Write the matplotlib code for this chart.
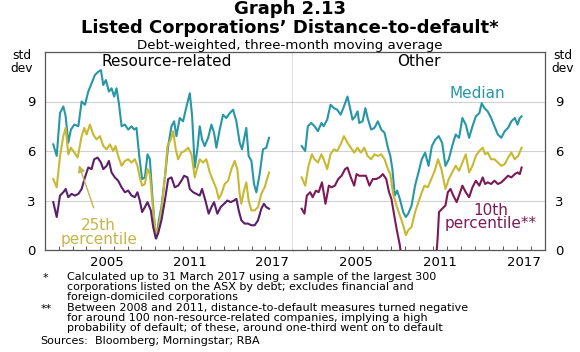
import numpy as np
import matplotlib
matplotlib.use('Agg')
import matplotlib.pyplot as plt

plt.rcParams['font.family'] = ['DejaVu Sans']

# Values: (year, std dev)
res_median = [(2001.60, 6.4), (2001.85, 5.7), (2002.09, 8.3), (2002.33, 8.7), (2002.50, 8.1), (2002.69, 6.5),
              (2002.88, 7.3), (2003.13, 7.6), (2003.42, 7.5), (2003.66, 9.0), (2003.90, 8.8), (2004.14, 9.6),
              (2004.38, 10.1), (2004.62, 10.6), (2004.86, 10.8), (2005.06, 10.9), (2005.23, 10.0), (2005.42, 10.3),
              (2005.64, 9.6), (2005.83, 9.8), (2006.02, 9.3), (2006.19, 9.8), (2006.36, 8.9), (2006.56, 7.5),
              (2006.80, 7.6), (2007.04, 7.3), (2007.28, 7.5), (2007.47, 7.3), (2007.64, 7.4), (2007.84, 5.7),
              (2008.05, 4.3), (2008.25, 4.4), (2008.44, 5.8), (2008.61, 5.5), (2008.78, 3.4), (2008.97, 1.4),
              (2009.09, 0.7), (2009.26, 1.8), (2009.45, 2.6), (2009.70, 4.4), (2009.94, 6.3), (2010.18, 7.5),
              (2010.37, 7.8), (2010.54, 6.9), (2010.78, 8.0), (2011.02, 7.8), (2011.27, 8.7), (2011.51, 9.5),
              (2011.68, 8.1), (2011.87, 5.0), (2012.06, 6.1), (2012.23, 7.5), (2012.40, 6.7), (2012.59, 6.3),
              (2012.84, 6.8), (2013.08, 7.6), (2013.27, 7.1), (2013.44, 6.2), (2013.68, 7.3), (2013.92, 8.2),
              (2014.16, 8.0), (2014.41, 8.3), (2014.65, 8.5), (2014.89, 7.8), (2015.13, 6.5), (2015.30, 6.1),
              (2015.49, 6.9), (2015.61, 7.4), (2015.78, 5.7), (2015.98, 5.4), (2016.17, 4.0), (2016.34, 3.5),
              (2016.58, 4.6), (2016.82, 6.1), (2017.06, 6.2), (2017.26, 6.8)]

res_p25 = [(2001.60, 4.3), (2001.85, 3.8), (2002.09, 5.7), (2002.33, 6.9), (2002.50, 7.4), (2002.69, 5.8),
           (2002.88, 6.2), (2003.13, 5.9), (2003.37, 5.6), (2003.66, 6.9), (2003.85, 7.4), (2004.02, 7.0),
           (2004.26, 7.6), (2004.50, 7.0), (2004.74, 6.7), (2004.99, 6.9), (2005.23, 6.3), (2005.47, 6.1),
           (2005.71, 6.4), (2005.95, 6.0), (2006.12, 6.3), (2006.31, 5.7), (2006.56, 5.1), (2006.80, 5.4),
           (2007.04, 5.5), (2007.28, 5.3), (2007.52, 5.5), (2007.71, 5.1), (2007.88, 4.4), (2008.05, 3.9),
           (2008.25, 4.0), (2008.44, 4.9), (2008.61, 4.6), (2008.85, 2.4), (2009.04, 1.0), (2009.21, 1.2),
           (2009.45, 2.4), (2009.70, 4.4), (2009.89, 6.3), (2010.13, 6.7), (2010.30, 7.2), (2010.49, 6.1),
           (2010.66, 5.5), (2010.90, 5.9), (2011.14, 6.0), (2011.39, 6.2), (2011.63, 5.8), (2011.87, 4.4),
           (2012.06, 5.0), (2012.23, 5.5), (2012.47, 5.3), (2012.71, 5.5), (2012.96, 4.7), (2013.20, 4.2),
           (2013.44, 3.7), (2013.61, 3.1), (2013.80, 3.4), (2014.04, 4.0), (2014.29, 4.2), (2014.53, 4.9),
           (2014.77, 5.4), (2014.96, 4.9), (2015.13, 3.4), (2015.25, 2.8), (2015.44, 3.6), (2015.61, 4.1),
           (2015.78, 3.0), (2015.98, 2.4), (2016.22, 2.4), (2016.46, 2.6), (2016.70, 3.4), (2016.94, 3.8),
           (2017.26, 4.7)]

res_p10 = [(2001.60, 2.9), (2001.85, 2.0), (2002.09, 3.3), (2002.33, 3.5), (2002.50, 3.7), (2002.69, 3.2),
           (2002.93, 3.4), (2003.17, 3.3), (2003.42, 3.4), (2003.66, 3.7), (2003.90, 4.4), (2004.14, 5.0),
           (2004.38, 4.9), (2004.57, 5.5), (2004.82, 5.6), (2005.06, 5.3), (2005.23, 4.9), (2005.47, 5.1),
           (2005.64, 5.4), (2005.83, 4.7), (2006.07, 4.4), (2006.31, 4.2), (2006.56, 3.8), (2006.80, 3.5),
           (2007.04, 3.6), (2007.28, 3.3), (2007.52, 3.2), (2007.71, 3.5), (2007.88, 3.0), (2008.05, 2.3),
           (2008.25, 2.6), (2008.44, 2.9), (2008.68, 2.4), (2008.85, 1.4), (2009.04, 0.7), (2009.21, 1.0),
           (2009.45, 1.8), (2009.70, 3.0), (2009.94, 4.3), (2010.18, 4.4), (2010.42, 3.8), (2010.66, 3.9),
           (2010.90, 4.2), (2011.10, 4.5), (2011.34, 4.4), (2011.51, 3.7), (2011.75, 3.5), (2011.99, 3.4),
           (2012.23, 3.3), (2012.40, 3.7), (2012.64, 3.0), (2012.88, 2.2), (2013.08, 2.6), (2013.27, 2.9),
           (2013.51, 2.2), (2013.75, 2.6), (2014.00, 2.8), (2014.24, 3.0), (2014.48, 2.9), (2014.72, 3.0),
           (2014.89, 3.1), (2015.06, 2.4), (2015.25, 1.8), (2015.49, 1.6), (2015.73, 1.6), (2015.98, 1.5),
           (2016.22, 1.5), (2016.46, 1.8), (2016.70, 2.5), (2016.89, 2.8), (2017.06, 2.6), (2017.26, 2.5)]

oth_median = [(2001.62, 6.3), (2001.87, 6.0), (2002.06, 7.5), (2002.30, 7.7), (2002.54, 7.5), (2002.78, 7.2),
              (2003.03, 7.7), (2003.19, 7.5), (2003.44, 7.9), (2003.68, 8.8), (2003.92, 8.6), (2004.16, 8.5),
              (2004.40, 8.2), (2004.64, 8.7), (2004.89, 9.3), (2005.05, 8.7), (2005.25, 7.9), (2005.44, 8.1),
              (2005.61, 8.4), (2005.73, 7.7), (2005.97, 7.8), (2006.17, 8.6), (2006.33, 8.0), (2006.58, 7.3),
              (2006.82, 7.4), (2007.06, 7.8), (2007.30, 7.3), (2007.54, 7.1), (2007.78, 6.2), (2007.95, 5.7),
              (2008.10, 4.9), (2008.27, 3.3), (2008.44, 3.6), (2008.63, 3.1), (2008.87, 2.3), (2009.06, 2.0),
              (2009.23, 2.2), (2009.47, 2.7), (2009.72, 3.9), (2009.96, 4.7), (2010.20, 5.5), (2010.44, 5.9),
              (2010.68, 5.1), (2010.92, 6.3), (2011.17, 6.7), (2011.41, 6.9), (2011.65, 6.5), (2011.89, 5.1),
              (2012.13, 5.5), (2012.37, 6.3), (2012.62, 7.0), (2012.86, 6.8), (2013.10, 8.0), (2013.34, 7.6),
              (2013.58, 6.8), (2013.82, 7.5), (2014.06, 8.1), (2014.31, 8.3), (2014.48, 8.9), (2014.67, 8.6),
              (2014.91, 8.4), (2015.15, 8.0), (2015.39, 7.5), (2015.63, 7.0), (2015.88, 6.8), (2016.12, 7.2),
              (2016.36, 7.4), (2016.60, 7.8), (2016.84, 8.0), (2017.04, 7.6), (2017.20, 8.0), (2017.33, 8.1)]

oth_p25 = [(2001.62, 4.4), (2001.87, 3.9), (2002.11, 5.1), (2002.35, 5.8), (2002.54, 5.5), (2002.78, 5.3),
           (2003.03, 5.8), (2003.19, 5.5), (2003.44, 4.9), (2003.68, 5.8), (2003.92, 6.1), (2004.16, 6.0),
           (2004.40, 6.4), (2004.64, 6.9), (2004.89, 6.5), (2005.13, 6.2), (2005.37, 5.9), (2005.61, 6.2),
           (2005.85, 5.9), (2006.09, 6.2), (2006.33, 5.7), (2006.58, 5.5), (2006.82, 5.8), (2007.06, 5.7),
           (2007.30, 5.8), (2007.54, 5.5), (2007.78, 4.9), (2007.95, 4.6), (2008.15, 3.4), (2008.39, 2.7),
           (2008.63, 2.1), (2008.87, 1.5), (2009.06, 0.9), (2009.23, 1.2), (2009.47, 1.4), (2009.72, 2.3),
           (2009.96, 2.9), (2010.20, 3.5), (2010.39, 3.9), (2010.63, 3.8), (2010.88, 4.3), (2011.12, 4.8),
           (2011.36, 5.5), (2011.60, 4.9), (2011.89, 3.7), (2012.13, 4.3), (2012.37, 4.7), (2012.62, 5.1),
           (2012.86, 4.8), (2013.10, 5.3), (2013.34, 5.8), (2013.58, 4.7), (2013.82, 5.1), (2014.06, 5.7),
           (2014.31, 6.0), (2014.55, 6.2), (2014.72, 5.8), (2014.91, 5.9), (2015.15, 5.5), (2015.39, 5.5),
           (2015.63, 5.3), (2015.88, 5.1), (2016.12, 5.2), (2016.36, 5.6), (2016.60, 5.9), (2016.84, 5.5),
           (2017.08, 5.7), (2017.33, 6.2)]

oth_p10 = [(2001.62, 2.5), (2001.82, 2.2), (2001.99, 3.3), (2002.23, 3.5), (2002.40, 3.2), (2002.64, 3.6),
           (2002.83, 3.5), (2003.07, 4.1), (2003.32, 2.8), (2003.56, 3.9), (2003.75, 3.8), (2003.99, 3.9),
           (2004.23, 4.3), (2004.47, 4.5), (2004.72, 4.9), (2004.89, 5.0), (2005.13, 4.4), (2005.37, 3.9),
           (2005.54, 4.6), (2005.73, 4.5), (2005.97, 4.5), (2006.21, 4.5), (2006.46, 3.9), (2006.70, 4.3),
           (2006.94, 4.3), (2007.18, 4.4), (2007.42, 4.6), (2007.66, 4.3), (2007.86, 3.5), (2008.03, 3.1),
           (2008.27, 1.9), (2008.44, 1.1), (2008.63, 0.3), (2008.82, -1.0), (2009.11, -2.5), (2010.08, -3.0),
           (2011.00, -1.5), (2011.24, -0.3), (2011.33, 0.7), (2011.43, 2.3), (2011.65, 2.5), (2011.89, 2.7),
           (2012.06, 3.5), (2012.25, 3.7), (2012.45, 3.3), (2012.69, 2.9), (2012.86, 3.3), (2013.10, 3.9),
           (2013.34, 3.5), (2013.58, 3.2), (2013.82, 3.8), (2014.06, 4.2), (2014.31, 3.9), (2014.55, 4.4),
           (2014.72, 4.0), (2014.91, 4.1), (2015.15, 4.0), (2015.39, 4.2), (2015.63, 4.0), (2015.88, 4.1),
           (2016.12, 4.3), (2016.36, 4.5), (2016.60, 4.4), (2016.84, 4.6), (2017.04, 4.7), (2017.20, 4.6),
           (2017.33, 5.0)]

year_labels = ['2005', '2011', '2017']
y_ticks = [0, 3, 6, 9]

teal = '#2697a6'
yellow = '#c8b832'
purple = '#5c1f6c'
maroon = '#7d1a55'
label_yellow = '#c2b54a'

fig = plt.figure(figsize=(5.8, 3.52), dpi=100)
W, H = 580, 352
ax1 = fig.add_axes([45 / W, 1 - 250 / H, 248 / W, 198 / H])
ax2 = fig.add_axes([293 / W, 1 - 250 / H, 252 / W, 198 / H])

for ax, series in [(ax1, [(res_median, teal), (res_p25, yellow), (res_p10, purple)]),
                   (ax2, [(oth_median, teal), (oth_p25, yellow), (oth_p10, maroon)])]:
    for data, col in series:
        t, v = zip(*data)
        ax.plot(t, v, color=col, lw=1.5, solid_joinstyle='round')
    ax.set_xlim(2001, 2019)
    ax.set_ylim(0, 12)
    ax.set_yticks(y_ticks)
    ax.grid(axis='y', color='#d2d2d2', lw=0.8)
    ax.set_axisbelow(True)
    ax.set_xticks(np.arange(2002, 2019))
    ax.set_xticklabels([])
    ax.set_xticks([2005.5, 2011.5, 2017.5], minor=True)
    ax.set_xticklabels(year_labels, minor=True, fontsize=9.5)
    ax.tick_params(axis='x', which='major', direction='in', length=3, width=0.7, color='#555555')
    ax.tick_params(axis='x', which='minor', length=0, pad=4)
    ax.tick_params(axis='y', length=0, labelsize=9.5, pad=7)
    for s in ax.spines.values():
        s.set_color('#555555')
        s.set_linewidth(0.9)

ax1.spines['right'].set_color('black')
ax2.spines['left'].set_visible(False)
ax2.yaxis.tick_right()

# titles
fig.text(0.5, 1 - 9.5 / H, 'Graph 2.13', ha='center', va='center', fontsize=13, fontweight='bold')
fig.text(0.5, 1 - 28 / H, 'Listed Corporations\u2019 Distance-to-default*', ha='center', va='center',
         fontsize=13, fontweight='bold')
fig.text(0.5, 1 - 45 / H, 'Debt-weighted, three-month moving average', ha='center', va='center', fontsize=9.6)

fig.text(22 / W, 1 - 62 / H, 'std\ndev', ha='center', va='center', fontsize=8.8, linespacing=1.0)
fig.text(563 / W, 1 - 62 / H, 'std\ndev', ha='center', va='center', fontsize=8.8, linespacing=1.0)

ax1.text(0.49, 0.95, 'Resource-related', transform=ax1.transAxes, ha='center', va='center', fontsize=11)
ax2.text(0.5, 0.95, 'Other', transform=ax2.transAxes, ha='center', va='center', fontsize=11)

# series labels
ax2.text(2014.2, 9.5, 'Median', color=teal, ha='center', va='center', fontsize=11)
ax2.text(2015.1, 2.0, '10th\npercentile**', color=maroon, ha='center', va='center', fontsize=11,
         linespacing=0.9)
ax1.text(2004.9, 1.05, '25th\npercentile', color=label_yellow, ha='center', va='center', fontsize=11,
         linespacing=0.9)
ax1.annotate('', xy=(2003.4, 5.3), xytext=(2004.6, 2.4),
             arrowprops=dict(arrowstyle='-|>', color=label_yellow, lw=1.0, mutation_scale=10))

# footnotes
fs = 8.0
fig.text(43 / W, 1 - 278 / H, '*', ha='left', va='center', fontsize=fs)
note1 = ['Calculated up to 31 March 2017 using a sample of the largest 300',
         'corporations listed on the ASX by debt; excludes financial and',
         'foreign-domiciled corporations']
for i, line in enumerate(note1):
    fig.text(67 / W, 1 - (277 + 10 * i) / H, line, ha='left', va='center', fontsize=fs)
fig.text(41 / W, 1 - 309 / H, '**', ha='left', va='center', fontsize=fs)
note2 = ['Between 2008 and 2011, distance-to-default measures turned negative',
         'for around 100 non-resource-related companies, implying a high',
         'probability of default; of these, around one-third went on to default']
for i, line in enumerate(note2):
    fig.text(67 / W, 1 - (308 + 10 * i) / H, line, ha='left', va='center', fontsize=fs)
fig.text(40 / W, 1 - 341 / H, 'Sources:', ha='left', va='center', fontsize=fs)
fig.text(95 / W, 1 - 341 / H, 'Bloomberg; Morningstar; RBA', ha='left', va='center', fontsize=fs)

fig.savefig('out.png', dpi=100)
